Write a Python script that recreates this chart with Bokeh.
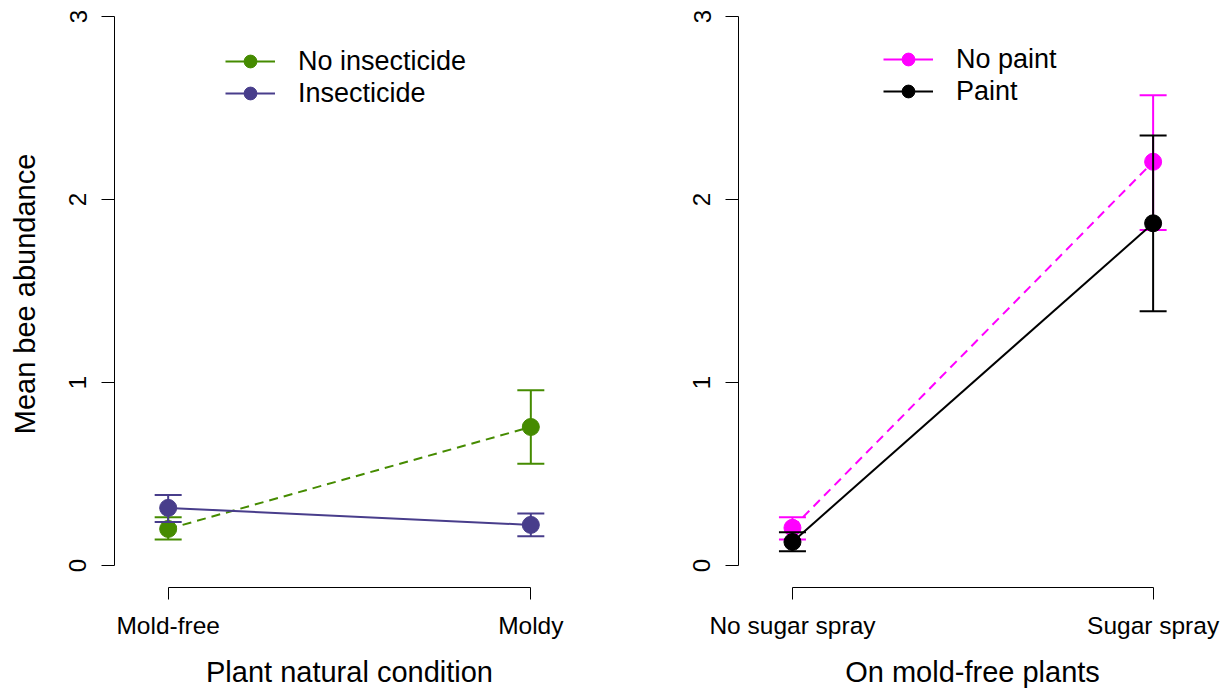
from bokeh.plotting import figure
from bokeh.layouts import row
from bokeh.models import (Range1d, FixedTicker, Legend, LegendItem, ColumnDataSource)
from bokeh.embed import file_html
from bokeh.resources import INLINE

# ---------------- data ----------------
conditions = ["Mold-free", "Moldy"]
no_insect_mean = [0.20, 0.757]
no_insect_lower = [0.142, 0.556]
no_insect_upper = [0.264, 0.958]
insect_mean = [0.315, 0.222]
insect_lower = [0.238, 0.160]
insect_upper = [0.386, 0.284]

sprays = ["No sugar spray", "Sugar spray"]
no_paint_mean = [0.206, 2.206]
no_paint_lower = [0.142, 1.833]
no_paint_upper = [0.264, 2.570]
paint_mean = [0.129, 1.870]
paint_lower = [0.078, 1.390]
paint_upper = [0.182, 2.350]

y_ticks = [0, 1, 2, 3]

GREEN = "#458B00"
PURPLE = "#483D8B"
MAGENTA = "#FF00FF"
BLACK = "#000000"
FONT = "Liberation Sans"


def make_panel(width, left_border, right_border, xstart, xend, cats, xtitle, ytitle):
    p = figure(width=width, height=690, output_backend="svg", toolbar_location=None,
               x_range=Range1d(xstart, xend), y_range=Range1d(-0.12, 3.0873),
               min_border_left=left_border, min_border_right=right_border,
               min_border_top=0, min_border_bottom=102)
    p.outline_line_color = None
    p.xgrid.visible = False
    p.ygrid.visible = False
    p.background_fill_color = "white"
    p.border_fill_color = "white"

    xa = p.xaxis[0]
    xa.ticker = FixedTicker(ticks=[1, 2])
    xa.major_label_overrides = {1: cats[0], 2: cats[1]}
    xa.bounds = (1, 2)
    xa.minor_tick_line_color = None
    xa.major_tick_in = 0
    xa.major_tick_out = 12
    xa.major_label_standoff = 12
    xa.major_label_text_font = FONT
    xa.major_label_text_font_size = "24.5px"
    xa.major_label_text_color = "black"
    xa.axis_line_color = "black"
    xa.major_tick_line_color = "black"
    xa.axis_label = xtitle
    xa.axis_label_text_font = FONT
    xa.axis_label_text_font_style = "normal"
    xa.axis_label_text_font_size = "29px"
    xa.axis_label_text_color = "black"
    xa.axis_label_standoff = 14

    ya = p.yaxis[0]
    ya.ticker = FixedTicker(ticks=y_ticks)
    ya.bounds = (0, 3)
    ya.minor_tick_line_color = None
    ya.major_tick_in = 0
    ya.major_tick_out = 13
    ya.major_label_standoff = 15
    ya.major_label_orientation = "parallel"
    ya.major_label_text_font = FONT
    ya.major_label_text_font_size = "24px"
    ya.major_label_text_color = "black"
    ya.axis_line_color = "black"
    ya.major_tick_line_color = "black"
    if ytitle:
        ya.axis_label = ytitle
        ya.axis_label_text_font = FONT
        ya.axis_label_text_font_style = "normal"
        ya.axis_label_text_font_size = "29px"
        ya.axis_label_text_color = "black"
        ya.axis_label_standoff = 26
    return p


def draw_series(p, mean, lower, upper, color, dash):
    xs = [1, 2]
    src = ColumnDataSource(dict(x=xs, m=mean, lo=lower, hi=upper))
    p.line("x", "m", source=src, line_color=color, line_width=2, line_dash=dash)
    p.segment(x0="x", y0="lo", x1="x", y1="hi", source=src, line_color=color, line_width=2)
    p.scatter("x", "lo", source=src, marker="dash", size=27, line_color=color, line_width=2)
    p.scatter("x", "hi", source=src, marker="dash", size=27, line_color=color, line_width=2)
    p.scatter("x", "m", source=src, marker="circle", size=17, fill_color=color, line_color=color)


def add_legend(p, labels, colors, xoff, yoff):
    items = []
    for lab, col in zip(labels, colors):
        # off-screen stand-ins so the legend shows solid line + dot
        l = p.line([0.0, 0.1], [-10.0, -10.0], line_color=col, line_width=2)
        s = p.scatter([0.0], [-10.0], marker="circle", size=15, fill_color=col, line_color=col)
        items.append(LegendItem(label=lab, renderers=[l, s]))
    lg = Legend(items=items, location=(xoff, yoff), orientation="vertical",
                glyph_width=50, glyph_height=32, label_standoff=23, spacing=0,
                padding=0, margin=0, border_line_color=None, background_fill_alpha=0,
                label_text_font=FONT, label_text_font_size="27px", label_text_color="black")
    p.add_layout(lg, "center")


# ---------------- left panel ----------------
p1 = make_panel(620, 114, 36, 0.852, 2.148, conditions, "Plant natural condition", "Mean bee abundance")
draw_series(p1, no_insect_mean, no_insect_lower, no_insect_upper, GREEN, "9 6")
draw_series(p1, insect_mean, insect_lower, insect_upper, PURPLE, "solid")
add_legend(p1, ["No insecticide", "Insecticide"], [GREEN, PURPLE], 111, 478)

# ---------------- right panel ----------------
p2 = make_panel(606, 118, 20, 0.8504, 2.148, sprays, "On mold-free plants", None)
draw_series(p2, no_paint_mean, no_paint_lower, no_paint_upper, MAGENTA, "9 6")
draw_series(p2, paint_mean, paint_lower, paint_upper, BLACK, "solid")
add_legend(p2, ["No paint", "Paint"], [MAGENTA, BLACK], 145, 480)

layout = row(p1, p2)
open("out.html", "w").write(file_html(layout, INLINE))
